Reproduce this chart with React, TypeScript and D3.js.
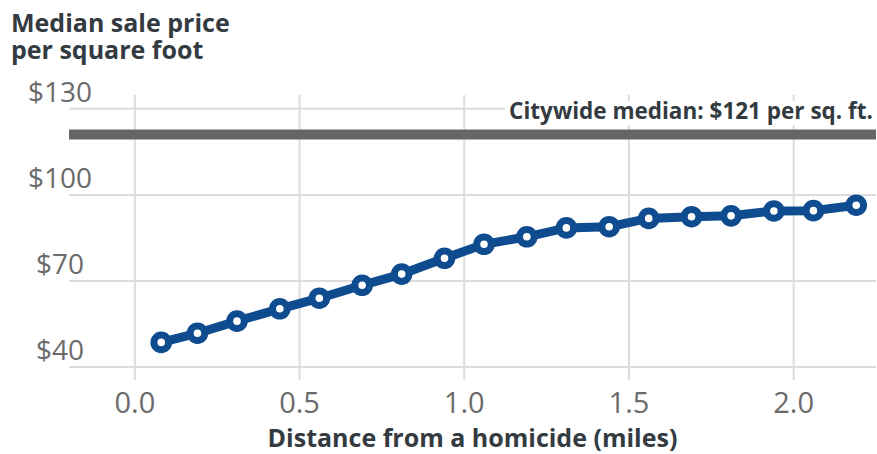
import React from "react";
import * as d3 from "d3";

// median sale price per sq ft by distance from a homicide (miles)
const distances = [
  0.08, 0.19, 0.31, 0.44, 0.56, 0.69, 0.81, 0.94, 1.06, 1.19, 1.31, 1.44,
  1.56, 1.69, 1.81, 1.94, 2.06, 2.19,
];
const prices = [
  48.6, 51.8, 56.0, 60.3, 64.0, 68.5, 72.4, 77.9, 82.8, 85.4, 88.5, 88.9,
  91.8, 92.4, 92.7, 94.4, 94.5, 96.4,
];
const xTicks = [0, 0.5, 1.0, 1.5, 2.0];
const yTicks = [40, 70, 100, 130];
const citywideMedian = 121;

const width = 877;
const height = 454;
const font = "'Open Sans', sans-serif";
const blue = "#0f4c8f";

const App = () => {
  const x = d3.scaleLinear().domain([-0.2, 2.25]).range([69, 876]);
  const y = d3.scaleLinear().domain([35.5, 134.8]).range([380, 95]);

  const points = distances.map((d, i) => [d, prices[i]] as [number, number]);
  const line = d3
    .line<[number, number]>()
    .x((d) => x(d[0]))
    .y((d) => y(d[1]));

  const [x0, x1] = x.range();
  const [yBottom, yTop] = y.range();

  return (
    <svg
      width={width}
      height={height}
      style={{ position: "absolute", left: 0, top: 0, background: "#fff" }}
      fontFamily={font}
    >
      {/* grid */}
      {yTicks.map((t) => (
        <line
          key={"gy" + t}
          x1={x0}
          x2={x1}
          y1={y(t)}
          y2={y(t)}
          stroke="#dcdcdc"
          strokeWidth={2}
        />
      ))}
      {xTicks.map((t) => (
        <line
          key={"gx" + t}
          x1={x(t)}
          x2={x(t)}
          y1={yTop}
          y2={yBottom}
          stroke="#dcdcdc"
          strokeWidth={2}
        />
      ))}

      {/* y tick labels */}
      {yTicks.map((t) => (
        <text
          key={"ty" + t}
          x={60}
          y={y(t) - 7}
          textAnchor="middle"
          fontSize={28}
          fill="#6b6b6b"
        >
          {"$" + t}
        </text>
      ))}

      {/* x tick labels */}
      {xTicks.map((t) => (
        <text
          key={"tx" + t}
          x={x(t)}
          y={413}
          textAnchor="middle"
          fontSize={29}
          fill="#6b6b6b"
        >
          {d3.format(".1f")(t)}
        </text>
      ))}

      {/* citywide median */}
      <rect x={505} y={101} width={371} height={24} fill="#fff" />
      <line
        x1={x0}
        x2={x1}
        y1={y(citywideMedian)}
        y2={y(citywideMedian)}
        stroke="#666666"
        strokeWidth={10}
      />
      <text
        x={873}
        y={119}
        textAnchor="end"
        fontSize={22.5}
        fontWeight="bold"
        fill="#333b41"
      >
        Citywide median: $121 per sq. ft.
      </text>

      {/* series */}
      <path d={line(points) ?? ""} fill="none" stroke={blue} strokeWidth={9} />
      {points.map((p, i) => (
        <circle
          key={i}
          cx={x(p[0])}
          cy={y(p[1])}
          r={7.3}
          fill="#fff"
          stroke={blue}
          strokeWidth={7}
        />
      ))}

      {/* titles */}
      <text fontSize={25} fontWeight="bold" fill="#333b41">
        <tspan x={11} y={31.5}>
          Median sale price
        </tspan>
        <tspan x={11} y={59}>
          per square foot
        </tspan>
      </text>
      <text
        x={(x0 + x1) / 2}
        y={447}
        textAnchor="middle"
        fontSize={25}
        fontWeight="bold"
        fill="#333b41"
      >
        Distance from a homicide (miles)
      </text>
    </svg>
  );
};

export default App;
